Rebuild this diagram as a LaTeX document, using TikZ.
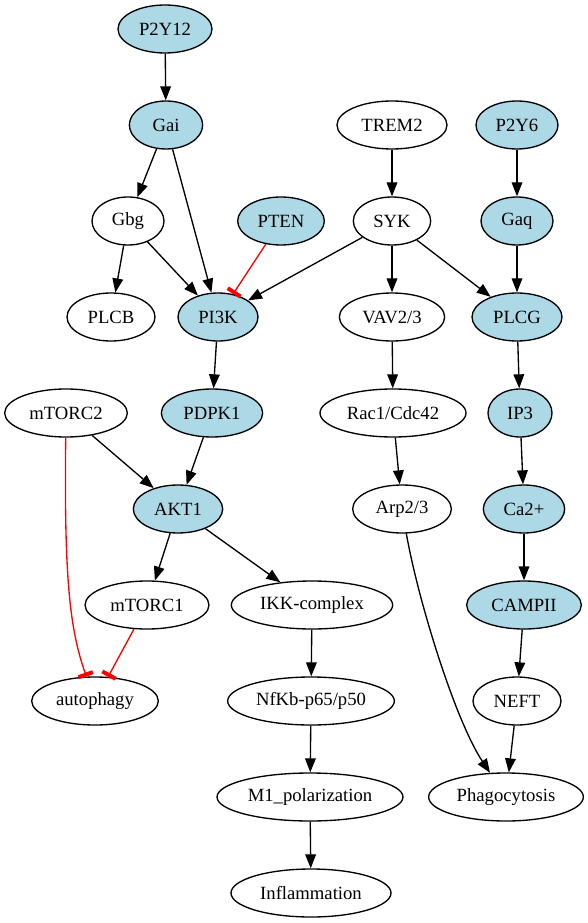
\documentclass[tikz,border=0pt]{standalone}
\usepackage{fontspec}
\setmainfont{Liberation Serif}
\usepackage{tikz}
\usetikzlibrary{shapes.geometric}
\usetikzlibrary{arrows.meta}
\definecolor{lightblue}{HTML}{ADD8E6}

\begin{document}
\begin{tikzpicture}[x=0.75pt,y=-0.75pt,
		gene/.style={ellipse,draw,line width=1pt,inner sep=0pt,minimum height=36pt,font=\fontsize{14}{16}\selectfont},
		act/.style={fill=lightblue},
		edge/.style={line width=1pt,-{Triangle[length=10.5pt,width=8pt]}},
		inhib/.style={red,line width=1pt,-{Bar[width=11.5pt,line width=3pt]}}]
		\useasboundingbox (0,0) rectangle (588,923);
		% nodes, row by row
		\node[gene,act,minimum width=70.5pt] (p2y12) at (165,29) {P2Y12};
		\node[gene,act,minimum width=55pt] (gai) at (166,125) {Gai};
		\node[gene,minimum width=82.5pt] (trem2) at (392,125) {TREM2};
		\node[gene,act,minimum width=61.5pt] (p2y6) at (517,125) {P2Y6};
		\node[gene,minimum width=54pt] (gbg) at (128,221) {Gbg};
		\node[gene,act,minimum width=65pt] (pten) at (281,221) {PTEN};
		\node[gene,minimum width=58pt] (syk) at (392,221) {SYK};
		\node[gene,act,minimum width=54pt] (gaq) at (517,221) {Gaq};
		\node[gene,minimum width=66pt] (plcb) at (111,317) {PLCB};
		\node[gene,act,minimum width=60pt] (pik) at (218,317) {PI3K};
		\node[gene,minimum width=79pt] (vav) at (392,317) {VAV2/3};
		\node[gene,act,minimum width=67.5pt] (plcg) at (517,317) {PLCG};
		\node[gene,minimum width=92pt] (mtorc2) at (66,413) {mTORC2};
		\node[gene,act,minimum width=76pt] (pdpk1) at (212,413) {PDPK1};
		\node[gene,minimum width=109.5pt] (rac) at (393,413) {Rac1/Cdc42};
		\node[gene,act,minimum width=48pt] (ip3) at (520,413) {IP3};
		\node[gene,act,minimum width=67pt] (akt1) at (178,509) {AKT1};
		\node[gene,minimum width=74pt] (arp) at (402,509) {Arp2/3};
		\node[gene,act,minimum width=61pt] (ca) at (524,509) {Ca2+};
		\node[gene,minimum width=93pt] (mtorc1) at (147,605) {mTORC1};
		\node[gene,minimum width=121pt] (ikk) at (312,605) {IKK-complex};
		\node[gene,act,minimum width=86pt] (campii) at (524,605) {CAMPII};
		\node[gene,minimum width=95pt] (autophagy) at (95,701) {autophagy};
		\node[gene,minimum width=125pt] (nfkb) at (311,701) {NfKb-p65/p50};
		\node[gene,minimum width=66pt] (neft) at (517,701) {NEFT};
		\node[gene,minimum width=139.5pt] (m1) at (310,797) {M1\_polarization};
		\node[gene,minimum width=116pt] (phago) at (506,797) {Phagocytosis};
		\node[gene,minimum width=120pt] (inflam) at (311,893) {Inflammation};
		% activations
		\draw[edge] (p2y12) -- (gai);
		\draw[edge] (gai) -- (gbg);
		\draw[edge] (gai) -- (pik);
		\draw[edge] (gbg) -- (plcb);
		\draw[edge] (gbg) -- (pik);
		\draw[edge] (trem2) -- (syk);
		\draw[edge] (syk) -- (pik);
		\draw[edge] (syk) -- (vav);
		\draw[edge] (syk) -- (plcg);
		\draw[edge] (p2y6) -- (gaq);
		\draw[edge] (gaq) -- (plcg);
		\draw[edge] (pik) -- (pdpk1);
		\draw[edge] (vav) -- (rac);
		\draw[edge] (plcg) -- (ip3);
		\draw[edge] (mtorc2) -- (akt1);
		\draw[edge] (pdpk1) -- (akt1);
		\draw[edge] (rac) -- (arp);
		\draw[edge] (ip3) -- (ca);
		\draw[edge] (akt1) -- (mtorc1);
		\draw[edge] (akt1) -- (ikk);
		\draw[edge] (arp) .. controls (418,600) and (455,720) .. (phago);
		\draw[edge] (ca) -- (campii);
		\draw[edge] (ikk) -- (nfkb);
		\draw[edge] (campii) -- (neft);
		\draw[edge] (neft) -- (phago);
		\draw[edge] (nfkb) -- (m1);
		\draw[edge] (m1) -- (inflam);
		% inhibitions
		\draw[inhib] (pten) -- (pik);
		\draw[inhib] (mtorc2) .. controls (64,580) and (70,630) .. (autophagy);
		\draw[inhib] (mtorc1) -- (autophagy);
	\end{tikzpicture}
\end{document}
